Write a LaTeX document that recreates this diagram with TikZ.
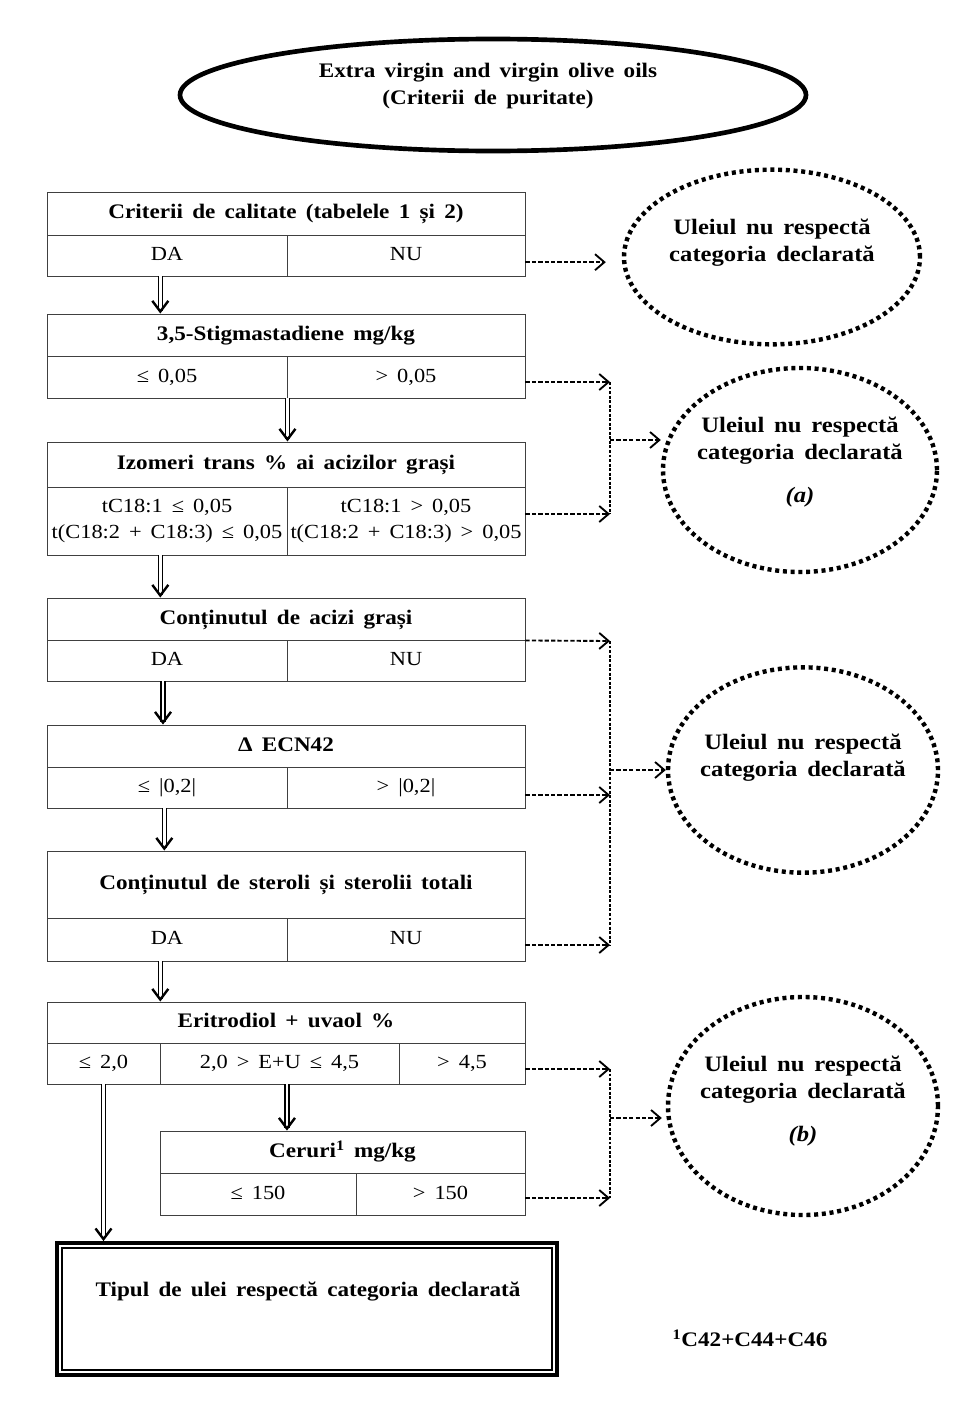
\documentclass[tikz,border=0pt]{standalone}
\usepackage{fontspec}
\setmainfont{Liberation Serif}[FakeStretch=1.12, WordSpace=1.6]
\usetikzlibrary{arrows.meta,shapes.geometric}
\tikzset{
  cellbox/.style={draw=black!75, line width=0.7pt, inner sep=0pt, align=center, text height=10.5pt, text depth=3pt, font=\fontsize{15}{19.5}\selectfont},
  hdrbox/.style={cellbox, font=\bfseries\fontsize{15.5}{19.5}\selectfont},
  twoline/.style={text height=, text depth=},
  dblshaft/.style={double, double distance=2pt, line width=1pt, shorten >=2pt},
  dblhead/.style={line width=1.2pt, -{Straight Barb[length=8pt,width=12pt,line width=1.8pt]}},
  dasharrow/.style={dash pattern=on 3.2pt off 1.6pt, line width=1.4pt, -{Straight Barb[length=7pt,width=12pt,line width=1.4pt]}},
  dashline/.style={dash pattern=on 2.2pt off 1.2pt, line width=1pt},
  dotell/.style={ellipse, draw, line width=3.3pt, dash pattern=on 3pt off 2.8pt, inner sep=0pt},
  elltxt/.style={font=\bfseries\fontsize{16.5}{20}\selectfont, align=center, inner sep=0pt},
  boldtxt/.style={font=\bfseries\fontsize{15.5}{20}\selectfont, align=center, inner sep=0pt},
}
\newcommand\mycell[7]{\node[#6, minimum width={(#4-#2)*0.75pt}, minimum height={(#5-#3)*0.75pt}] (#1) at ({(#2+#4)/2},{(#3+#5)/2}) {#7};}
\newcommand\dblarr[2]{\draw[dblshaft] #1 -- #2; \draw[dblhead] #2 ++(0,-4) -- #2;}
\begin{document}
\begin{tikzpicture}[x=0.75pt, y=-0.75pt]
\fill[white] (0,0) rectangle (967,1417);
\useasboundingbox (0,0) rectangle (967,1417);

% top ellipse
\node[ellipse, draw, line width=3.5pt, minimum width=469.5pt, minimum height=84pt, inner sep=0pt] (top) at (493,95) {};
\node[boldtxt, font=\bfseries\fontsize{15.5}{20.5}\selectfont] (toptxt) at (488,86) {Extra virgin and virgin olive oils\\(Criterii de puritate)};

% box 1
\mycell{b1h}{47}{192}{525}{235}{hdrbox}{Criterii de calitate (tabelele 1 și 2)}
\mycell{b1da}{47}{235}{287}{276}{cellbox}{DA}
\mycell{b1nu}{287}{235}{525}{276}{cellbox}{NU}

% box 2
\mycell{b2h}{47}{314}{525}{356}{hdrbox}{3,5-Stigmastadiene mg/kg}
\mycell{b2le}{47}{356}{287}{398}{cellbox}{≤ 0,05}
\mycell{b2gt}{287}{356}{525}{398}{cellbox}{> 0,05}

% box 3
\mycell{b3h}{47}{442}{525}{487}{hdrbox}{Izomeri trans \% ai acizilor grași}
\mycell{b3le}{47}{487}{287}{555}{cellbox,twoline}{tC18:1 ≤ 0,05\\t(C18:2 + C18:3) ≤ 0,05}
\mycell{b3gt}{287}{487}{525}{555}{cellbox,twoline}{tC18:1 > 0,05\\t(C18:2 + C18:3) > 0,05}

% box 4
\mycell{b4h}{47}{598}{525}{640}{hdrbox}{Conținutul de acizi grași}
\mycell{b4da}{47}{640}{287}{681}{cellbox}{DA}
\mycell{b4nu}{287}{640}{525}{681}{cellbox}{NU}

% box 5
\mycell{b5h}{47}{725}{525}{767}{hdrbox}{Δ ECN42}
\mycell{b5le}{47}{767}{287}{808}{cellbox}{≤ |0,2|}
\mycell{b5gt}{287}{767}{525}{808}{cellbox}{> |0,2|}

% box 6
\mycell{b6h}{47}{851}{525}{918}{hdrbox}{Conținutul de steroli și sterolii totali}
\mycell{b6da}{47}{918}{287}{961}{cellbox}{DA}
\mycell{b6nu}{287}{918}{525}{961}{cellbox}{NU}

% box 7
\mycell{b7h}{47}{1002}{525}{1043}{hdrbox}{Eritrodiol + uvaol \%}
\mycell{b7a}{47}{1043}{160}{1084}{cellbox}{≤ 2,0}
\mycell{b7b}{160}{1043}{399}{1084}{cellbox}{2,0 > E+U ≤ 4,5}
\mycell{b7c}{399}{1043}{525}{1084}{cellbox}{> 4,5}

% box 8
\mycell{b8h}{160}{1131}{525}{1173}{hdrbox}{Ceruri\textsuperscript{1} mg/kg}
\mycell{b8le}{160}{1173}{356}{1215}{cellbox}{≤ 150}
\mycell{b8gt}{356}{1173}{525}{1215}{cellbox}{> 150}

% final box
\node[draw, line width=2.8pt, minimum width=375pt, minimum height=99pt, inner sep=0pt] (fin) at (307,1309) {};
\draw[line width=1.1pt] ([shift={(5pt,-5pt)}]fin.north west) rectangle ([shift={(-5pt,5pt)}]fin.south east);
\node[boldtxt] (fintxt) at (308,1291) {Tipul de ulei respectă categoria declarată};

% footnote
\node[boldtxt] (fn) at (750,1338) {\textsuperscript{1}C42+C44+C46};

% dotted ellipses
\node[dotell, minimum width=222pt, minimum height=131pt] (e1) at (772,257) {};
\node[elltxt] (e1t) at (772,243) {Uleiul nu respectă\\categoria declarată};
\node[dotell, minimum width=205.5pt, minimum height=153pt] (e2) at (800,470) {};
\node[elltxt] (e2t) at (800,462) {Uleiul nu respectă\\categoria declarată\\[12pt]\textit{(a)}};
\node[dotell, minimum width=202.5pt, minimum height=154pt] (e3) at (803,770) {};
\node[elltxt] (e3t) at (803,758) {Uleiul nu respectă\\categoria declarată};
\node[dotell, minimum width=202.5pt, minimum height=163.5pt] (e4) at (803,1106) {};
\node[elltxt] (e4t) at (803,1101) {Uleiul nu respectă\\categoria declarată\\[12pt]\textit{(b)}};

% double arrows
\dblarr{([xshift=-5pt]b1da.south)}{([xshift=-5pt]b1da.south |- b2h.north)}
\dblarr{(b2le.south east)}{(b2le.south east |- b3h.north)}
\dblarr{([xshift=-5pt]b3le.south)}{([xshift=-5pt]b3le.south |- b4h.north)}
\dblarr{([xshift=-3pt]b4da.south)}{([xshift=-3pt]b4da.south |- b5h.north)}
\dblarr{([xshift=-2pt]b5le.south)}{([xshift=-2pt]b5le.south |- b6h.north)}
\dblarr{([xshift=-5pt]b6da.south)}{([xshift=-5pt]b6da.south |- b7h.north)}
\dblarr{([xshift=5.6pt]b7b.south)}{([xshift=5.6pt]b7b.south |- b8h.north)}
\dblarr{(b7a.south)}{(b7a.south |- fin.north)}

% dashed connectors
\draw[dasharrow, shorten >=12pt] ([yshift=-5pt]b1nu.east) -- ([yshift=-5pt]b1nu.east -| e1.west);

\coordinate (j2a) at (610,382);
\coordinate (j2b) at (610,514);
\coordinate (j2m) at (610,440);
\draw[dasharrow] (b2gt.east |- j2a) -- (j2a);
\draw[dasharrow] (b3gt.east |- j2b) -- (j2b);
\draw[dashline] (j2a) -- (j2b);
\draw[dasharrow] (j2m) -- (j2m -| e2.west);

\coordinate (j3a) at (610,641);
\coordinate (j3b) at (610,795);
\coordinate (j3c) at (610,945);
\coordinate (j3m) at (610,770);
\draw[dasharrow] (b4h.south east) -- (j3a);
\draw[dasharrow] (b5gt.east |- j3b) -- (j3b);
\draw[dasharrow] (b6nu.east |- j3c) -- (j3c);
\draw[dashline] (j3a) -- (j3c);
\draw[dasharrow] (j3m) -- (j3m -| e3.west);

\coordinate (j4a) at (610,1069);
\coordinate (j4b) at (610,1198);
\coordinate (j4m) at (610,1118);
\draw[dasharrow] (b7c.east |- j4a) -- (j4a);
\draw[dasharrow] (b8gt.east |- j4b) -- (j4b);
\draw[dashline] (j4a) -- (j4b);
\draw[dasharrow, shorten >=3pt] (j4m) -- (j4m -| e4.west);
\end{tikzpicture}
\end{document}
